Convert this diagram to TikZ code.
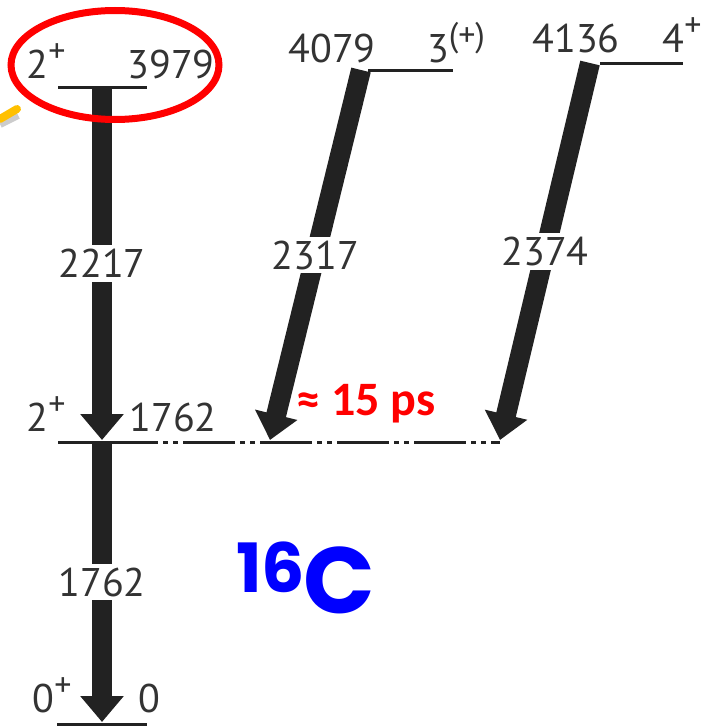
\documentclass[tikz,border=0pt]{standalone}
\usepackage{fontspec}
\setmainfont{PT Sans}
\newfontfamily\calfont{Carlito}
\newfontfamily\popfont{Poppins}
\usepackage{tikz}
\usetikzlibrary{arrows.meta,positioning}
\definecolor{hiyellow}{RGB}{255,192,0}
\definecolor{gammagray}{RGB}{34,34,34}
\newcommand{\parity}[1]{\raisebox{0.40em}{\fontsize{17}{17}\selectfont #1}}

\begin{document}
\begin{tikzpicture}[
  x=0.5pt, y=-0.5pt,
  level/.style={line width=1.5pt, gammagray},
  gamma/.style={line width=10pt, draw=gammagray, -{Triangle[width=21pt,length=13pt]}},
  energy/.style={anchor=base, inner sep=0pt, text=black!80, font=\fontsize{20}{20}\selectfont},
  elabel/.style={fill=white, inner sep=2pt, text=black!80, font=\fontsize{20}{20}\selectfont}
]
\useasboundingbox (0,0) rectangle (718,728);

% levels
\coordinate (l3979a) at (58,87);   \coordinate (l3979b) at (147,87);
\coordinate (l1762a) at (58,442);  \coordinate (l1762c) at (158,442);
\coordinate (l1762b) at (500,442);
\coordinate (l0a) at (57,724);     \coordinate (l0b) at (147,724);
\coordinate (l4079a) at (368,70);  \coordinate (l4079b) at (453,70);
\coordinate (l4136a) at (600,63);  \coordinate (l4136b) at (683,63);
\draw[level] (l3979a) -- (l3979b);
\draw[level] (l1762a) -- (l1762c);
\draw[level, dash pattern=on 26pt off 2.5pt on 2.5pt off 2.5pt on 2.5pt off 2.5pt, dash phase=26pt] (l1762c) -- (l1762b);
\draw[level] (l0a) -- (l0b);
\draw[level] (l4079a) -- (l4079b);
\draw[level] (l4136a) -- (l4136b);

% transitions
\coordinate (g2217s) at (102,87);  \coordinate (g2217e) at (102,440);
\coordinate (g1762s) at (102,442); \coordinate (g1762e) at (102,722);
\coordinate (g2317s) at (361,70);  \coordinate (g2317e) at (270,440);
\coordinate (g2374s) at (590,63);  \coordinate (g2374e) at (500,440);
\draw[gamma] (g2217s) -- node[elabel] (t2217) {2217} (g2217e);
\draw[gamma] (g1762s) -- node[elabel] (t1762) {1762} (g1762e);
\draw[gamma] (g2317s) -- node[elabel] (t2317) {2317} (g2317e);
\draw[gamma] (g2374s) -- node[elabel] (t2374) {2374} (g2374e);

% spins and energies
\node[energy] (j3979) at (46,78) {2\parity{+}};
\node[energy] (e3979) at (171,78) {3979};
\node[energy] (j1762) at (46,431) {2\parity{+}};
\node[energy] (e1762) at (173,431) {1762};
\node[energy] (j0) at (52,712) {0\parity{+}};
\node[energy] (e0) at (149,712) {0};
\node[energy] (e4079) at (332,62) {4079};
\node[energy] (j4079) at (456,62) {3\parity{(+)}};
\node[energy] (e4136) at (576,52) {4136};
\node[energy] (j4136) at (682,52) {4\parity{+}};

% highlight
\draw[red, line width=3.5pt] (115,65) ellipse [x radius=104, y radius=54.5];
\draw[black!20, line width=4pt] (0,124) -- (18,115);
\draw[hiyellow, line width=4pt, line cap=round] (0,119) -- (17,109);

\node[anchor=base west, inner sep=0pt, text=red, font=\calfont\bfseries\fontsize{24}{24}\selectfont] (life) at (296,415) {≈ 15 ps};
\node[anchor=base west, inner sep=0pt, text=blue, font=\popfont\bfseries\fontsize{34}{34}\selectfont] (mass) at (236,592) {16};
\node[anchor=base west, inner sep=0pt, text=blue, font=\popfont\bfseries\fontsize{47}{47}\selectfont] (elem) at (303,613) {C};
\end{tikzpicture}
\end{document}
